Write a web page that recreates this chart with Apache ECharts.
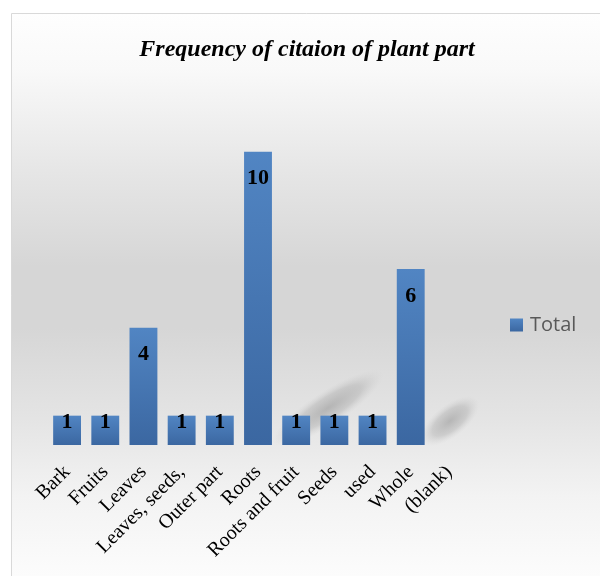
<!DOCTYPE html>
<html>
<head>
<meta charset="utf-8">
<script src="https://cdn.jsdelivr.net/npm/echarts@6/dist/echarts.min.js"></script>
<style>
  html, body { margin: 0; padding: 0; background: #ffffff; }
  #chart { width: 600px; height: 576px; }
</style>
</head>
<body>
<div id="chart"></div>
<script>
// Plant parts cited and how often each was cited
const categories = ['Bark', 'Fruits', 'Leaves', 'Leaves, seeds,', 'Outer part', 'Roots',
  'Roots and fruit', 'Seeds', 'used', 'Whole', '(blank)'];
const totals = [1, 1, 4, 1, 1, 10, 1, 1, 1, 6, null];

const chartTitle = 'Frequency of citaion of plant part';
const seriesName = 'Total';

const serif = '"Liberation Serif", "DejaVu Serif", serif';

const barFill = {
  type: 'linear', x: 0, y: 0, x2: 0, y2: 1,
  colorStops: [
    { offset: 0, color: '#5185c3' },
    { offset: 1, color: '#3b67a1' }
  ]
};

// Chart-area wash: pale at the edges, grey through the middle (pixel coordinates)
const areaFill = {
  type: 'linear', global: true, x: 0, y: 13, x2: 0, y2: 576,
  colorStops: [
    { offset: 0.00, color: '#fefefe' },
    { offset: 0.10, color: '#f9f9f9' },
    { offset: 0.27, color: '#e7e7e7' },
    { offset: 0.45, color: '#d6d6d6' },
    { offset: 0.56, color: '#d6d6d6' },
    { offset: 0.72, color: '#e4e4e4' },
    { offset: 0.86, color: '#f3f3f3' },
    { offset: 1.00, color: '#fcfcfc' }
  ]
};

// Soft diagonal floor shadow made of a stretched, blurred blob
function softStreak(cx, cy, length, thickness, angleDeg, alpha) {
  const r = 10;
  return {
    type: 'circle',
    z: -5,
    x: cx,
    y: cy,
    scaleX: length / (2 * r),
    scaleY: thickness / (2 * r),
    rotation: angleDeg * Math.PI / 180,
    shape: { cx: 0, cy: 0, r: r },
    style: {
      fill: {
        type: 'radial', global: true, x: 0, y: 0, r: r,
        colorStops: [
          { offset: 0, color: 'rgba(150,150,150,' + alpha + ')' },
          { offset: 0.6, color: 'rgba(160,160,160,' + (alpha * 0.6) + ')' },
          { offset: 1, color: 'rgba(200,200,200,0)' }
        ]
      }
    }
  };
}

// Short bars get their label nudged upward, like the spreadsheet renders it
const barData = totals.map(v => ({
  value: v,
  label: { distance: v !== null && v < 2 ? -4 : 16 }
}));

const chart = echarts.init(document.getElementById('chart'), null, { renderer: 'canvas' });

chart.setOption({
  animation: false,
  backgroundColor: '#ffffff',
  graphic: [
    {
      type: 'rect',
      z: -10,
      shape: { x: 11.5, y: 13.5, width: 620, height: 600 },
      style: { fill: areaFill, stroke: '#d9d9d9', lineWidth: 1 }
    },
    softStreak(328, 408, 130, 34, 33, 0.6),
    softStreak(450, 421, 70, 32, 38, 0.6)
  ],
  title: {
    text: chartTitle,
    left: 302,
    textAlign: 'center',
    top: 33,
    textStyle: {
      fontFamily: serif,
      fontSize: 24,
      fontWeight: 'bold',
      fontStyle: 'italic',
      color: '#000000'
    }
  },
  legend: {
    data: [seriesName],
    orient: 'vertical',
    left: 510,
    top: 315,
    padding: 0,
    itemWidth: 13,
    itemHeight: 13,
    itemGap: 6,
    icon: 'rect',
    textStyle: {
      fontFamily: '"Open Sans", "Noto Sans", sans-serif',
      fontSize: 20,
      color: '#595959',
      padding: [0, 0, 0, 2]
    }
  },
  grid: {
    left: 48,
    top: 93,
    width: 420,
    height: 352,
    containLabel: false
  },
  xAxis: {
    type: 'category',
    data: categories,
    axisLine: { show: false },
    axisTick: { show: false },
    axisLabel: {
      interval: 0,
      rotate: 45,
      margin: 24,
      fontFamily: serif,
      fontSize: 20,
      color: '#000000'
    }
  },
  yAxis: {
    type: 'value',
    min: 0,
    max: 12,
    interval: 2,
    show: false,
    splitLine: { show: false }
  },
  series: [
    {
      name: seriesName,
      type: 'bar',
      data: barData,
      barWidth: '73%',
      itemStyle: { color: barFill },
      label: {
        show: true,
        position: 'insideTop',
        fontFamily: serif,
        fontSize: 22,
        fontWeight: 'bold',
        color: '#000000'
      }
    }
  ]
});
</script>
</body>
</html>
